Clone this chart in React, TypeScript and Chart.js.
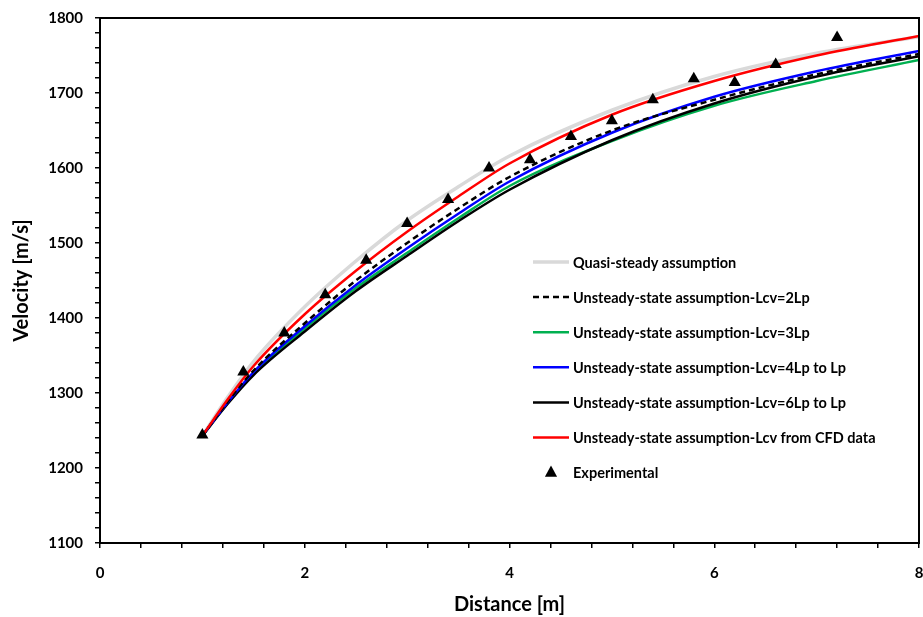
import React, { useEffect, useRef } from 'react';
import { Chart, registerables } from 'chart.js';

Chart.register(...registerables);

// ---- data ----
const curveX = [1, 1.25, 1.5, 2, 2.5, 3, 3.5, 4, 5, 6, 7, 8];
const quasiSteady = [1243, 1295, 1342, 1415, 1476, 1530, 1575, 1616, 1677, 1722, 1753, 1775];
const lcv2Lp = [1243, 1289, 1330, 1393, 1450, 1500, 1546, 1588, 1650, 1691, 1725, 1752];
const lcv3Lp = [1243, 1287, 1326, 1386, 1440, 1487, 1533, 1576, 1636, 1683, 1716, 1744];
const lcv4LpToLp = [1243, 1288, 1328, 1389, 1444, 1493, 1539, 1582, 1647, 1695, 1729, 1756];
const lcv6LpToLp = [1243, 1286, 1324, 1382, 1436, 1483, 1529, 1571, 1637, 1686, 1722, 1749];
const lcvCFD = [1243, 1292, 1336, 1405, 1463, 1515, 1562, 1606, 1671, 1716, 1750, 1776];

const expX = [1, 1.4, 1.8, 2.2, 2.6, 3.0, 3.4, 3.8, 4.2, 4.6, 5.0, 5.4, 5.8, 6.2, 6.6, 7.2];
const expY = [1244, 1328, 1380, 1431, 1477, 1526, 1558, 1600, 1611, 1642, 1663, 1691, 1719, 1714, 1738, 1774];

const seriesLabels = [
  'Quasi-steady assumption',
  'Unsteady-state assumption-Lcv=2Lp',
  'Unsteady-state assumption-Lcv=3Lp',
  'Unsteady-state assumption-Lcv=4Lp to Lp',
  'Unsteady-state assumption-Lcv=6Lp to Lp',
  'Unsteady-state assumption-Lcv from CFD data',
  'Experimental',
];

const xMajorTicks = [0, 2, 4, 6, 8];
const yMajorTicks = [1100, 1200, 1300, 1400, 1500, 1600, 1700, 1800];

const FONT = 'Lato, "Open Sans", "DejaVu Sans", sans-serif';

const toPts = (xs: number[], ys: number[]) => xs.map((x, i) => ({ x, y: ys[i] }));

const isMajor = (v: number, list: number[]) => list.some((m) => Math.abs(m - v) < 1e-6);

const framePlugin = {
  id: 'frame',
  afterDatasetsDraw(chart: any) {
    const { ctx, chartArea } = chart;
    ctx.save();
    ctx.strokeStyle = '#000';
    ctx.lineWidth = 2;
    ctx.strokeRect(chartArea.left, chartArea.top, chartArea.right - chartArea.left, chartArea.bottom - chartArea.top);
    ctx.restore();
  },
};

const legendPlugin = {
  id: 'insideLegend',
  afterDraw(chart: any) {
    const { ctx } = chart;
    const ds = chart.data.datasets;
    const lineX0 = 533;
    const lineX1 = 569;
    const textX = 573;
    const y0 = 262;
    const dy = 35.1;
    ctx.save();
    ctx.font = `bold 14.5px ${FONT}`;
    ctx.textBaseline = 'middle';
    ctx.textAlign = 'left';
    ds.forEach((d: any, i: number) => {
      const y = y0 + i * dy;
      if (d.showLine === false) {
        ctx.fillStyle = '#000';
        ctx.beginPath();
        const cx = (lineX0 + lineX1) / 2;
        const r = 7;
        ctx.moveTo(cx, y - r);
        ctx.lineTo(cx + r * 0.87, y + r * 0.6);
        ctx.lineTo(cx - r * 0.87, y + r * 0.6);
        ctx.closePath();
        ctx.fill();
      } else {
        ctx.strokeStyle = d.borderColor;
        ctx.lineWidth = d.borderWidth;
        ctx.setLineDash(d.borderDash || []);
        ctx.beginPath();
        ctx.moveTo(lineX0, y);
        ctx.lineTo(lineX1, y);
        ctx.stroke();
        ctx.setLineDash([]);
      }
      ctx.fillStyle = '#000';
      ctx.fillText(d.label, textX, y + 1);
    });
    ctx.restore();
  },
};

export default function App() {
  const canvasRef = useRef<HTMLCanvasElement | null>(null);

  useEffect(() => {
    if (!canvasRef.current) return;
    const lineDs = (label: string, ys: number[], color: string, width: number, order: number, dash?: number[]) => ({
      type: 'line' as const,
      label,
      data: toPts(curveX, ys),
      borderColor: color,
      backgroundColor: color,
      borderWidth: width,
      borderDash: dash || [],
      pointRadius: 0,
      fill: false,
      cubicInterpolationMode: 'monotone' as const,
      order,
    });

    const chart = new Chart(canvasRef.current, {
      type: 'line',
      data: {
        datasets: [
          lineDs(seriesLabels[0], quasiSteady, '#d9d9d9', 3.5, 6),
          lineDs(seriesLabels[1], lcv2Lp, '#000000', 2.5, 2, [6, 4]),
          lineDs(seriesLabels[2], lcv3Lp, '#00b050', 2.5, 5),
          lineDs(seriesLabels[3], lcv4LpToLp, '#0000ff', 2.5, 3),
          lineDs(seriesLabels[4], lcv6LpToLp, '#000000', 2.5, 4),
          lineDs(seriesLabels[5], lcvCFD, '#ff0000', 2.5, 1),
          {
            type: 'line' as const,
            label: seriesLabels[6],
            data: toPts(expX, expY),
            showLine: false,
            pointStyle: 'triangle',
            pointRadius: 7,
            pointBorderWidth: 0,
            pointBackgroundColor: '#000',
            pointBorderColor: '#000',
            borderColor: '#000',
            backgroundColor: '#000',
            order: 0,
          },
        ] as any,
      },
      options: {
        animation: false,
        responsive: true,
        maintainAspectRatio: false,
        layout: { autoPadding: false, padding: { left: 0, right: 4, top: 18, bottom: 0 } },
        plugins: {
          legend: { display: false },
          tooltip: { enabled: false },
        },
        scales: {
          x: {
            type: 'linear',
            min: 0,
            max: 8,
            afterFit: (s: any) => { s.height = 74; s.paddingLeft = 0; s.paddingRight = 0; },
            ticks: {
              stepSize: 0.4,
              autoSkip: false,
              maxRotation: 0,
              padding: 16,
              color: '#000',
              font: { family: FONT, size: 15, weight: 'bold' },
              callback: (v: any) => (isMajor(Number(v), xMajorTicks) ? String(Math.round(Number(v))) : ''),
            },
            grid: { drawOnChartArea: false, drawTicks: true, tickLength: 5, color: '#000', lineWidth: 1.5 },
            border: { display: true, color: '#000', width: 2 },
            title: {
              display: true,
              text: 'Distance [m]',
              color: '#000',
              font: { family: FONT, size: 20, weight: 'bold' },
              padding: { top: 0, bottom: 0 },
            },
          },
          y: {
            type: 'linear',
            min: 1100,
            max: 1800,
            afterFit: (s: any) => { s.width = 100; s.paddingTop = 0; s.paddingBottom = 0; },
            ticks: {
              stepSize: 20,
              autoSkip: false,
              padding: 12,
              color: '#000',
              font: { family: FONT, size: 15, weight: 'bold' },
              callback: (v: any) => (isMajor(Number(v), yMajorTicks) ? String(Math.round(Number(v))) : ''),
            },
            grid: { drawOnChartArea: false, drawTicks: true, tickLength: 5, color: '#000', lineWidth: 1.5 },
            border: { display: true, color: '#000', width: 2 },
            title: {
              display: true,
              text: 'Velocity [m/s]',
              color: '#000',
              font: { family: FONT, size: 20, weight: 'bold' },
              padding: { top: 10, bottom: 0 },
            },
          },
        },
      } as any,
      plugins: [framePlugin, legendPlugin],
    });
    return () => chart.destroy();
  }, []);

  return (
    <div style={{ position: 'absolute', left: 0, top: 0, width: 923, height: 617, background: '#fff' }}>
      <canvas ref={canvasRef} />
    </div>
  );
}
